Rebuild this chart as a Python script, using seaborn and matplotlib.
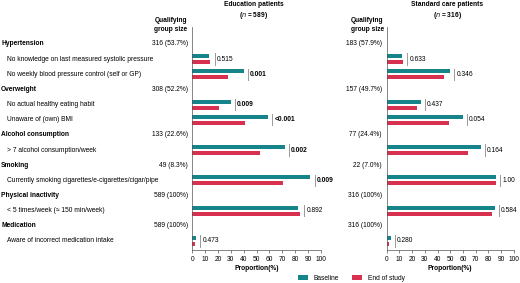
import pandas as pd
import matplotlib.pyplot as plt
import matplotlib.transforms as mtransforms
from matplotlib.patches import Patch
import seaborn as sns

# Data
groups = ['Hypertension', 'Overweight', 'Alcohol consumption', 'Smoking',
          'Physical inactivity', 'Medication']
group_items = [
    ['No knowledge on last measured systolic pressure',
     'No weekly blood pressure control (self or GP)'],
    ['No actual healthy eating habit', 'Unaware of (own) BMI'],
    ['> 7 alcohol consumption/week'],
    ['Currently smoking cigarettes/e-cigarettes/cigar/pipe'],
    ['< 5 times/week (\u2248 150 min/week)'],
    ['Aware of incorrect medication intake'],
]
edu_group_size = ['316 (53.7%)', '308 (52.2%)', '133 (22.6%)', '49 (8.3%)',
                  '589 (100%)', '589 (100%)']
std_group_size = ['183 (57.9%)', '157 (49.7%)', '77 (24.4%)', '22 (7.0%)',
                  '316 (100%)', '316 (100%)']

edu_baseline = [13, 40, 30, 59, 72, 92, 82, 3]
edu_end = [14, 28, 21, 41, 53, 71, 84, 2]
edu_p = ['0.515', '0.001', '0.009', '<0.001', '0.002', '0.009', '0.892', '0.473']
edu_sig = [False, True, True, True, True, True, False, False]

std_baseline = [12, 50, 27, 60, 74, 86, 85, 3]
std_end = [13, 45, 24, 49, 64, 86, 83, 2]
std_p = ['0.633', '0.346', '0.437', '0.054', '0.164', '1.00', '0.584', '0.280']
std_sig = [False] * 8

series = ['Baseline', 'End of study']
colors = ['#16858b', '#d8304f']

plt.rcParams['font.family'] = ['Liberation Sans', 'DejaVu Sans']
fs = 4.8

# slot order: header then its items
slots = []
for g, its in zip(groups, group_items):
    slots.append(g)
    slots.extend(its)
items = [it for its in group_items for it in its]

fig = plt.figure(figsize=(5.2, 2.83), dpi=100)
bottom, height = 0.1166, 0.788
ax_edu = fig.add_axes([0.3698, bottom, 0.247, height])
ax_std = fig.add_axes([0.7437, bottom, 0.2442, height])


def draw_panel(ax, base, end, pvals, sig, sizes, size_x, head_x, title):
    df = pd.DataFrame({
        'row': items * 2,
        'value': base + end,
        'series': ['Baseline'] * len(items) + ['End of study'] * len(items),
    })
    sns.barplot(data=df, x='value', y='row', hue='series', order=slots,
                hue_order=series, palette=colors, width=0.8, gap=0.35,
                orient='h', legend=False, ax=ax, saturation=1)
    ax.set_xlim(0, 100)
    ax.set_ylim(13.6, -1.12)
    ax.set_xticks(range(0, 101, 10))
    ax.tick_params(axis='x', labelsize=fs, length=2.5, width=0.5,
                   color='#555555', pad=1.5)
    ax.tick_params(axis='y', left=False, labelleft=False)
    ax.set_ylabel('')
    ax.set_xlabel('Proportion(%)', fontsize=fs, fontweight='bold', labelpad=2)
    for s in ['top', 'right']:
        ax.spines[s].set_visible(False)
    for s in ['left', 'bottom']:
        ax.spines[s].set_linewidth(0.5)
        ax.spines[s].set_color('#555555')

    for k, it in enumerate(items):
        y = slots.index(it)
        xm = max(base[k], end[k]) + 3.3
        ax.plot([xm, xm], [y - 0.38, y + 0.38], color='#999999', lw=0.7)
        ax.text(xm + 1.6, y, pvals[k], fontsize=fs, va='center', ha='left',
                fontweight='bold' if sig[k] else 'normal')

    tr = mtransforms.blended_transform_factory(fig.transFigure, ax.transData)
    for g, sz in zip(groups, sizes):
        ax.text(size_x, slots.index(g), sz, transform=tr, fontsize=fs,
                ha='right', va='center')
    fig.text(head_x, 0.912, 'Qualifying\ngroup size', fontsize=fs,
             fontweight='bold', ha='center', va='center', linespacing=1.3)
    fig.text((ax.get_position().x0 + ax.get_position().x1) / 2 - 0.006,
             0.997, title, fontsize=fs, fontweight='bold', ha='center',
             va='top', linespacing=1.3)


draw_panel(ax_edu, edu_baseline, edu_end, edu_p, edu_sig, edu_group_size,
           0.3615, 0.328, 'Education patients\n($n$ = 589)')
draw_panel(ax_std, std_baseline, std_end, std_p, std_sig, std_group_size,
           0.734, 0.706, 'Standard care patients\n($n$ = 316)')

# left-hand row labels
tr = mtransforms.blended_transform_factory(fig.transFigure, ax_edu.transData)
for s in slots:
    if s in groups:
        ax_edu.text(0.002, slots.index(s), s, transform=tr, fontsize=fs,
                    fontweight='bold', va='center', ha='left')
    else:
        ax_edu.text(0.0135, slots.index(s), s, transform=tr, fontsize=fs,
                    va='center', ha='left')

handles = [Patch(facecolor=c, edgecolor='none', label=l)
           for c, l in zip(colors, series)]
fig.legend(handles=handles, loc='center', bbox_to_anchor=(0.676, 0.016),
           ncol=2, frameon=False, fontsize=fs, handlelength=1.5,
           handleheight=0.7, handletextpad=0.8, columnspacing=2.0)

fig.savefig('out.png', dpi=100)
